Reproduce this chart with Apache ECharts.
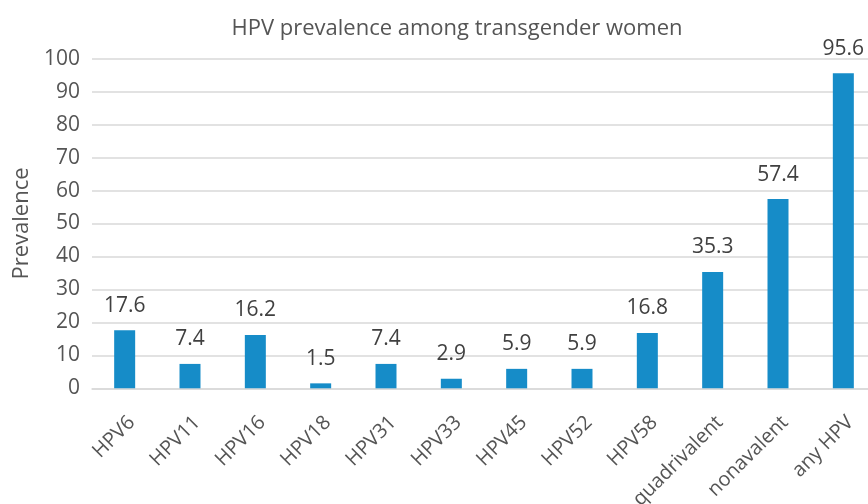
<!DOCTYPE html>
<html><head><meta charset="utf-8">
<script src="https://cdn.jsdelivr.net/npm/echarts@6/dist/echarts.min.js"></script>
<style>html,body{margin:0;padding:0;background:#fff}#c{width:868px;height:504px}</style>
</head><body><div id="c"></div>
<script>
const categories = ["HPV6","HPV11","HPV16","HPV18","HPV31","HPV33","HPV45","HPV52","HPV58","quadrivalent","nonavalent","any HPV"];
const prevalence = [17.6,7.4,16.2,1.5,7.4,2.9,5.9,5.9,16.8,35.3,57.4,95.6];
const yTicks = [0,10,20,30,40,50,60,70,80,90,100];
const font = "'Open Sans', 'Noto Sans', sans-serif";
const chart = echarts.init(document.getElementById('c'));
chart.setOption({
  animation:false,
  title:{text:"HPV prevalence among transgender women",left:452,top:13,textAlign:'center',
    textStyle:{fontFamily:font,fontSize:22,fontWeight:'normal',color:'#555555'}},
  grid:{left:92,right:-8,top:58.7,bottom:115.7,containLabel:false,outerBoundsMode:'none'},
  xAxis:{type:'category',data:categories,
    axisLine:{lineStyle:{color:'#d9d9d9',width:1.5}},axisTick:{show:false},
    axisLabel:{rotate:45,interval:0,margin:24,verticalAlign:'top',align:'right',
      fontFamily:font,fontSize:20,color:'#555555'}},
  yAxis:{type:'value',min:yTicks[0],max:yTicks[yTicks.length-1],interval:10,
    name:'Prevalence',nameLocation:'middle',nameGap:59,nameRotate:90,
    nameTextStyle:{fontFamily:font,fontSize:22,color:'#555555'},
    axisLine:{show:false},axisTick:{show:false},
    splitLine:{lineStyle:{color:'#d9d9d9',width:1.5}},
    axisLabel:{margin:12,fontFamily:font,fontSize:21,color:'#555555'}},
  series:[{type:'bar',data:prevalence,barWidth:21,itemStyle:{color:'#168cc8'},
    label:{show:true,position:'top',distance:14,fontFamily:font,fontSize:21,color:'#404040'}}]
});
</script></body></html>
